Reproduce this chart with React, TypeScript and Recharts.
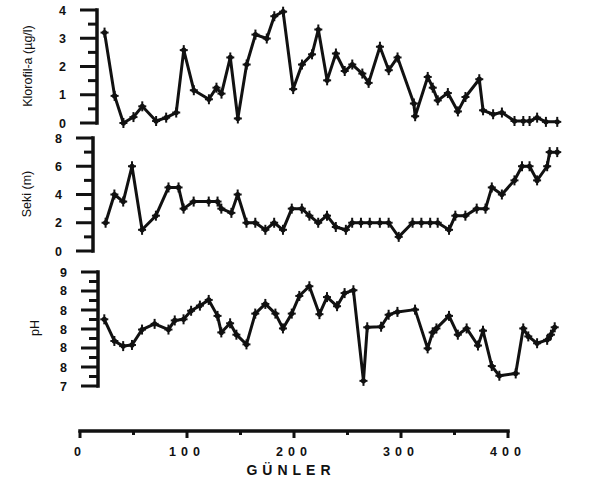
import { LineChart, Line, XAxis, YAxis } from 'recharts';

// Klorofil-a (µg/l)
const klorofilDays = [6, 14, 21, 29, 36, 47, 55, 63, 69, 77, 89, 95, 99, 106, 112, 119, 126, 135, 141, 148, 156, 163, 171, 176, 183, 190, 197, 203, 211, 216, 225, 232, 239, 252, 253, 263, 267, 271, 279, 287, 293, 304, 307, 315, 322, 332, 339, 344, 350, 357, 366];
const klorofilValues = [3.2, 0.96, 0, 0.21, 0.59, 0.07, 0.19, 0.37, 2.58, 1.16, 0.84, 1.25, 1.04, 2.32, 0.16, 2.07, 3.13, 2.99, 3.78, 3.94, 1.2, 2.07, 2.43, 3.31, 1.51, 2.46, 1.84, 2.07, 1.75, 1.42, 2.7, 1.87, 2.32, 0.69, 0.24, 1.63, 1.25, 0.8, 1.06, 0.41, 0.92, 1.55, 0.45, 0.31, 0.37, 0.07, 0.07, 0.07, 0.19, 0.04, 0.04];

// Seki (m)
const sekiDays = [7, 14, 21, 28, 36, 47, 57, 65, 69, 77, 89, 96, 99, 107, 112, 119, 126, 134, 141, 148, 155, 163, 169, 176, 183, 190, 198, 203, 210, 217, 225, 232, 240, 251, 258, 265, 271, 280, 285, 293, 302, 309, 314, 322, 332, 338, 344, 350, 358, 360, 366];
const sekiValues = [2, 4, 3.5, 6, 1.5, 2.5, 4.5, 4.5, 3, 3.5, 3.5, 3.5, 3, 2.7, 4, 2, 2, 1.5, 2, 1.5, 3, 3, 2.5, 2, 2.5, 1.7, 1.5, 2, 2, 2, 2, 2, 1, 2, 2, 2, 2, 1.5, 2.5, 2.5, 3, 3, 4.5, 4, 5, 6, 6, 5, 6, 7, 7];

// pH
const phDays = [6, 14, 21, 28, 36, 46, 57, 62, 69, 75, 82, 89, 96, 99, 106, 111, 119, 126, 134, 142, 148, 155, 161, 169, 177, 183, 191, 197, 204, 212, 215, 226, 232, 239, 253, 263, 267, 270, 280, 287, 294, 303, 307, 314, 320, 333, 339, 343, 350, 358, 361, 364];
const phValues = [8.17, 7.79, 7.7, 7.72, 7.99, 8.09, 7.99, 8.15, 8.17, 8.32, 8.41, 8.51, 8.23, 7.94, 8.1, 7.9, 7.73, 8.27, 8.44, 8.27, 8.01, 8.27, 8.58, 8.75, 8.26, 8.56, 8.4, 8.63, 8.68, 7.09, 8.03, 8.04, 8.25, 8.3, 8.34, 7.66, 7.94, 8.01, 8.23, 7.9, 8.01, 7.71, 7.97, 7.35, 7.18, 7.22, 8.01, 7.87, 7.75, 7.81, 7.9, 8.03];

// axis ticks: minor ticks, and major ticks with their labels
const klorofilTicks = [0, 0.5, 1, 1.5, 2, 2.5, 3, 3.5, 4];
const klorofilMajor = [0, 1, 2, 3, 4];
const klorofilTickLabels = ['0', '1', '2', '3', '4'];
const sekiTicks = [0, 1, 2, 3, 4, 5, 6, 7, 8];
const sekiMajor = [0, 2, 4, 6, 8];
const sekiTickLabels = ['0', '2', '4', '6', '8'];
const phTicks = [7, 7.1667, 7.3333, 7.5, 7.6667, 7.8333, 8, 8.1667, 8.3333, 8.5, 8.6667, 8.8333, 9];
const phMajor = [7, 7.3333, 7.6667, 8, 8.3333, 8.6667, 9];
const phTickLabels = ['7', '8', '8', '8', '8', '8', '9'];
const dayTicks = [0, 50, 100, 150, 200, 250, 300, 350, 400];
const dayMajor = [0, 100, 200, 300, 400];
const dayTickLabels = ['0', '100', '200', '300', '400'];

const FONT = '"Liberation Sans", Arial, Helvetica, sans-serif';
const INK = '#111';

const toRows = (days: number[], values: number[]) => days.map((d, i) => ({ day: d, value: values[i] }));
const majorIndex = (major: number[], v: number) => major.findIndex((m) => Math.abs(m - v) < 1e-3);

const yTick = (props: any, major: number[], labels: string[]) => {
  const { x, y, payload } = props;
  const mi = majorIndex(major, Number(payload.value));
  const isMajor = mi >= 0;
  return (
    <g>
      <line x1={x - (isMajor ? 17 : 9)} x2={x} y1={y} y2={y} stroke={INK} strokeWidth={3} />
      {isMajor ? (
        <text x={x - 31} y={y} dy={4.5} textAnchor="end" fontFamily={FONT} fontWeight="bold" fontSize={12.5} fill={INK}>
          {labels[mi]}
        </text>
      ) : null}
    </g>
  );
};

const KlorofilTick = (props: any) => yTick(props, klorofilMajor, klorofilTickLabels);
const SekiTick = (props: any) => yTick(props, sekiMajor, sekiTickLabels);
const PhTick = (props: any) => yTick(props, phMajor, phTickLabels);

const XTick = (props: any) => {
  const { x, y, payload } = props;
  const mi = majorIndex(dayMajor, Number(payload.value));
  const isMajor = mi >= 0;
  return (
    <g>
      <line x1={x} x2={x} y1={y} y2={y + (isMajor ? 7 : 4)} stroke={INK} strokeWidth={3} />
      {isMajor ? (
        <text x={x} y={y + 25} textAnchor="middle" fontFamily={FONT} fontWeight="bold" fontSize={12.5} letterSpacing={5} fill={INK}>
          {dayTickLabels[mi]}
        </text>
      ) : null}
    </g>
  );
};

const PlusDot = (props: any) => {
  const { cx, cy, index } = props;
  if (cx == null || cy == null) return <g key={index} />;
  return (
    <g key={index}>
      <circle cx={cx} cy={cy} r={2.6} fill={INK} />
      <line x1={cx} x2={cx} y1={cy - 5} y2={cy + 5} stroke={INK} strokeWidth={2} />
      <line x1={cx - 4} x2={cx + 4} y1={cy} y2={cy} stroke={INK} strokeWidth={2} />
    </g>
  );
};

function Panel(p: {
  top: number; height: number; mTop: number; mBottom: number; left: number; xMin: number;
  rows: { day: number; value: number }[]; domain: number[]; ticks: number[]; tick: any;
}) {
  return (
    <div style={{ position: 'absolute', left: 0, top: p.top }}>
      <LineChart
        width={616}
        height={p.height}
        data={p.rows}
        margin={{ top: p.mTop, bottom: p.mBottom, left: p.left - 60, right: 16 }}
      >
        <XAxis dataKey="day" type="number" domain={[p.xMin, 400]} hide />
        <YAxis
          type="number"
          domain={p.domain}
          ticks={p.ticks}
          interval={0}
          width={60}
          tickSize={0}
          tickMargin={0}
          tickLine={false}
          axisLine={{ stroke: INK, strokeWidth: 3.5, strokeLinecap: 'square' }}
          tick={p.tick}
        />
        <Line
          dataKey="value"
          type="linear"
          stroke={INK}
          strokeWidth={3}
          strokeLinejoin="round"
          dot={PlusDot}
          activeDot={false}
          isAnimationActive={false}
        />
      </LineChart>
    </div>
  );
}

const titleStyle = (x: number, y: number): any => ({
  position: 'absolute',
  left: x,
  top: y,
  transform: 'translate(-50%, -50%) rotate(-90deg)',
  whiteSpace: 'nowrap',
  fontFamily: FONT,
  fontSize: 12.5,
  color: INK,
  lineHeight: 1,
});

export default function App() {
  return (
    <div style={{ position: 'absolute', left: 0, top: 0, width: 616, height: 482, background: '#fff', overflow: 'hidden' }}>
      <div style={{ position: 'absolute', left: 0, top: 400 }}>
        <LineChart width={616} height={82} data={[{ day: 0 }, { day: 400 }]} margin={{ top: 20, bottom: 0, left: 80, right: 108 }}>
          <XAxis
            dataKey="day"
            type="number"
            domain={[0, 400]}
            ticks={dayTicks}
            interval={0}
            height={51}
            tickSize={0}
            tickMargin={0}
            tickLine={false}
            axisLine={{ stroke: INK, strokeWidth: 3.5, strokeLinecap: 'square' }}
            tick={XTick}
          />
          <YAxis hide domain={[0, 1]} />
        </LineChart>
      </div>

      <Panel top={262} height={136} mTop={10} mBottom={12} left={98} xMin={1} rows={toRows(phDays, phValues)} domain={[7, 9]} ticks={phTicks} tick={PhTick} />
      <Panel top={0} height={132} mTop={10} mBottom={9} left={97} xMin={0} rows={toRows(klorofilDays, klorofilValues)} domain={[0, 4]} ticks={klorofilTicks} tick={KlorofilTick} />
      <Panel top={118} height={142} mTop={20} mBottom={9} left={93} xMin={-3} rows={toRows(sekiDays, sekiValues)} domain={[0, 8]} ticks={sekiTicks} tick={SekiTick} />

      <div style={titleStyle(28, 66)}>Klorofil-a (µg/l)</div>
      <div style={titleStyle(27, 194)}>Seki (m)</div>
      <div style={titleStyle(35, 328)}>pH</div>
      <div
        style={{
          position: 'absolute', left: 291, top: 470, transform: 'translate(-50%, -50%)',
          fontFamily: FONT, fontWeight: 'bold', fontSize: 14, letterSpacing: 5, color: INK, whiteSpace: 'nowrap',
        }}
      >
        GÜNLER
      </div>
    </div>
  );
}
